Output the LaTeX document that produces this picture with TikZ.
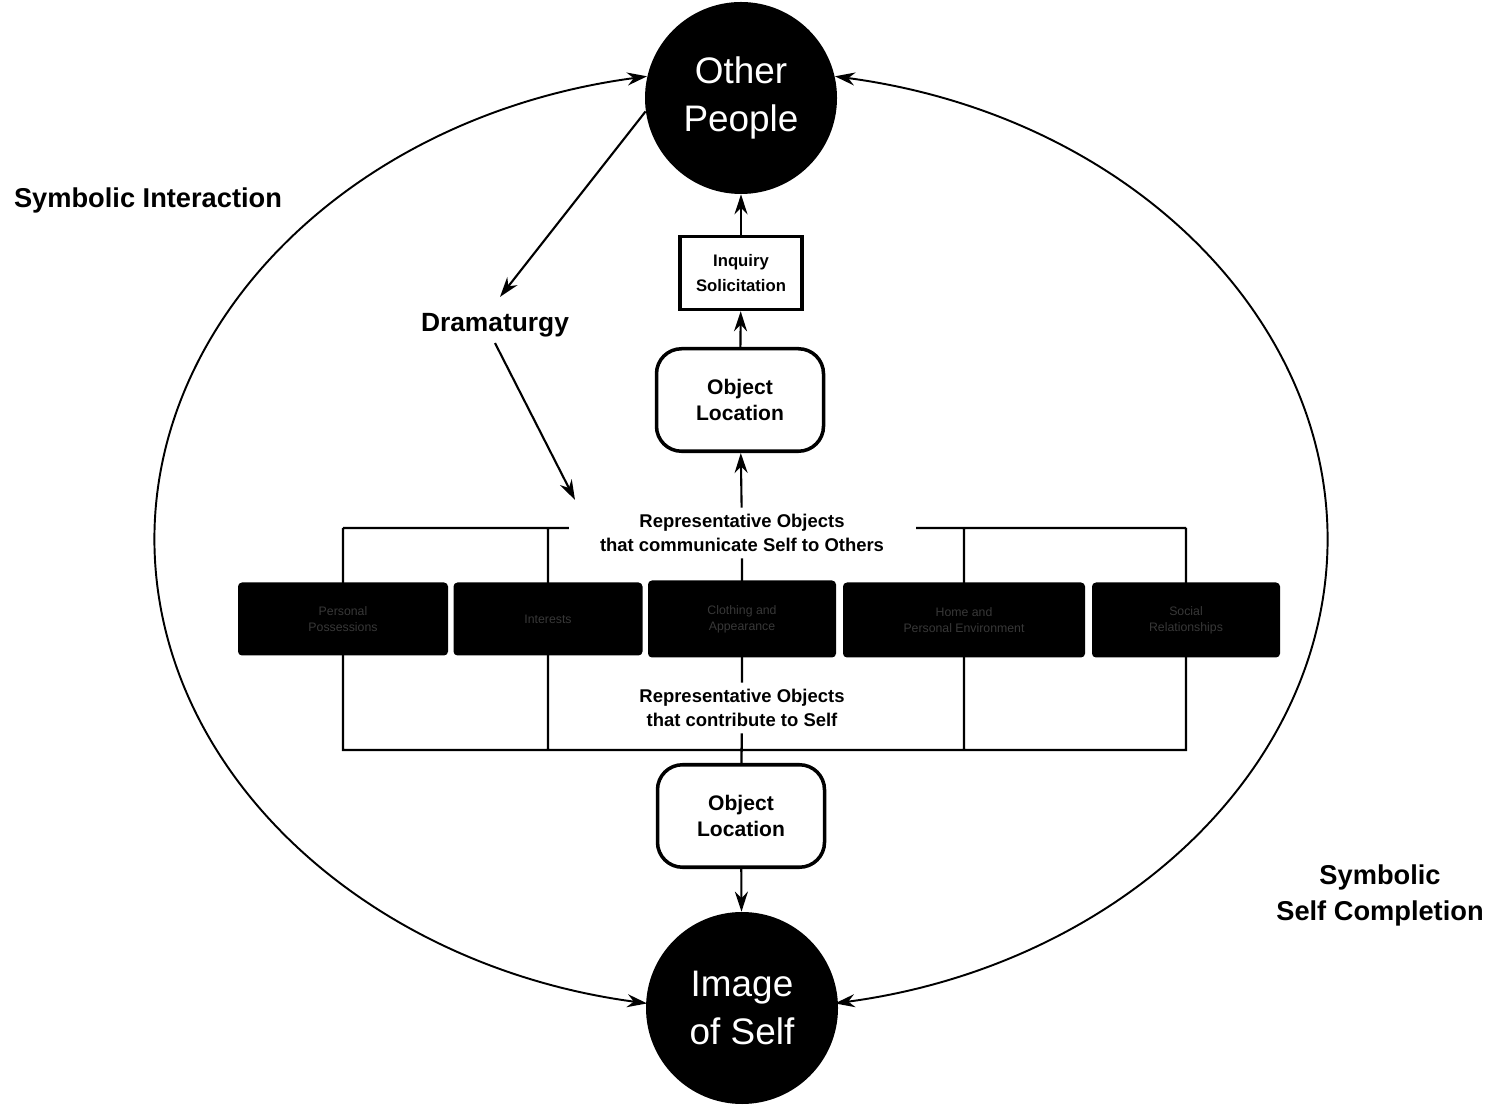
\documentclass[tikz,border=0pt]{standalone}
\usepackage{fontspec}
\setmainfont{Liberation Sans}
\usetikzlibrary{positioning,arrows.meta,backgrounds}

\begin{document}
\begin{tikzpicture}[x=0.2mm,y=0.2mm,>={Stealth[length=4mm,width=2.6mm]},
  hub/.style={circle,fill=black,text=white,minimum size=38.4mm,inner sep=0pt,align=center,font=\fontsize{21}{27}\selectfont},
  locbox/.style={draw,line width=2pt,rounded corners=5mm,fill=white,align=center,minimum width=33.4mm,minimum height=20.5mm,font=\fontsize{12}{14.5}\selectfont\bfseries},
  objbox/.style={fill=black,rounded corners=0.8mm,minimum height=14.6mm,align=center,text=black!78!white,font=\fontsize{7}{9}\selectfont},
  repr/.style={align=center,font=\fontsize{10.5}{14}\selectfont\bfseries},
  sidelabel/.style={align=center,font=\fontsize{15.5}{20.5}\selectfont\bfseries},
  bracket/.style={line width=1.3pt},
  link/.style={->,line width=1.2pt}]
\useasboundingbox (0,0) rectangle (1499,1104);
% the two poles
\node[hub] (other) at (741,1006) {Other\\People};
\node[hub] (self) at (742,96) {Image\\of Self};
% upper chain
\node[draw,line width=2pt,fill=white,minimum width=24.4mm,minimum height=14.6mm,align=center,font=\fontsize{9.5}{14}\selectfont\bfseries] (inq) at (741,831) {Inquiry\\Solicitation};
\node[locbox] (objtop) at (740,704) {Object\\Location};
\node[locbox] (objbot) at (741,288) {Object\\Location};
\node[font=\fontsize{15}{18}\selectfont\bfseries] (drama) at (495,779) {Dramaturgy};
\node[sidelabel] (symint) at (148,904) {Symbolic Interaction};
\node[sidelabel] (symself) at (1380,209) {Symbolic\\Self Completion};
\node[repr,fill=white,inner xsep=6.3mm] (comm) at (742,571) {Representative Objects\\that communicate Self to Others};
\node[repr] (contr) at (742,396) {Representative Objects\\that contribute to Self};
\coordinate (top) at (742,576);
\coordinate (bot) at (742,354);
\coordinate (dtip) at (575,604);
% the objects
\node[objbox,minimum width=42mm] (b1) at (343,485) {Personal\\Possessions};
\node[objbox,minimum width=37.8mm] (b2) at (548,485) {Interests};
\node[objbox,minimum width=37.6mm,minimum height=15.4mm] (b3) at (742,485) {Clothing and\\Appearance};
\node[objbox,minimum width=48.4mm,minimum height=15mm] (b4) at (964,484) {Home and\\Personal Environment};
\node[objbox,minimum width=37.6mm,minimum height=15mm] (b5) at (1186,484) {Social\\Relationships};
\begin{scope}[on background layer]
\draw[bracket] (b1 |- top) -- (b5 |- top) (b1 |- top) -- (b1 |- bot) -- (b5 |- bot) -- (b5 |- top)
  (b2 |- top) -- (b2 |- bot) (b4 |- top) -- (b4 |- bot) (comm) -- (contr) (contr) -- (objbot);
\end{scope}
% arrows
\draw[link] (comm) -- (objtop);
\draw[link] (objtop) -- (inq);
\draw[link] (inq) -- (other);
\draw[link] (objbot) -- (self);
\draw[link] (other.188) -- ([xshift=1mm,yshift=2mm]drama.north);
\draw[link] (drama.south) -- (dtip);
\draw[<->,line width=1.1pt] (other.167) arc[start angle=99.5,end angle=260.5,x radius=118mm,y radius=94mm];
\draw[<->,line width=1.1pt] (other.13) arc[start angle=80.5,end angle=-80.5,x radius=118mm,y radius=94mm];
\end{tikzpicture}
\end{document}
